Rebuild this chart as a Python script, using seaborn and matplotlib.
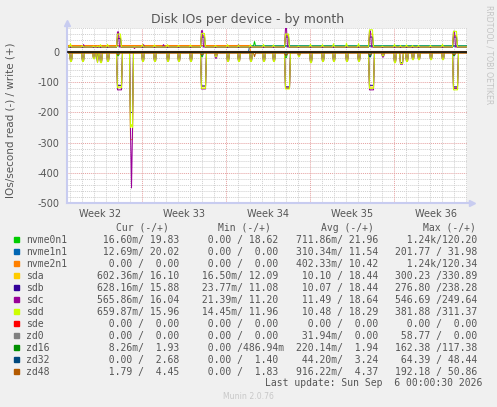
# munin "diskstats_iops" month graph, redrawn with seaborn
import numpy as np
import pandas as pd
import matplotlib.pyplot as plt
import seaborn as sns

plt.rcParams['axes.unicode_minus'] = False

W, H = 497, 407

devices = ['nvme0n1', 'nvme1n1', 'nvme2n1', 'sda', 'sdb', 'sdc', 'sdd',
           'sde', 'zd0', 'zd16', 'zd32', 'zd48']
colors = ['#00CC00', '#0066B3', '#FF8000', '#FFCC00', '#330099', '#990099',
          '#CCFF00', '#FF0000', '#808080', '#008F00', '#00487D', '#B35A00']

# legend values (read / write)
cur_read = ['16.60m', '12.69m', '0.00', '602.36m', '628.16m', '565.86m', '659.87m', '0.00', '0.00', '8.26m', '0.00', '1.79']
cur_write = ['19.83', '20.02', '0.00', '16.10', '15.88', '16.04', '15.96', '0.00', '0.00', '1.93', '2.68', '4.45']
min_read = ['0.00', '0.00', '0.00', '16.50m', '23.77m', '21.39m', '14.45m', '0.00', '0.00', '0.00', '0.00', '0.00']
min_write = ['18.62', '0.00', '0.00', '12.09', '11.08', '11.20', '11.96', '0.00', '0.00', '486.94m', '1.40', '1.83']
avg_read = ['711.86m', '310.34m', '402.33m', '10.10', '10.07', '11.49', '10.48', '0.00', '31.94m', '220.14m', '44.20m', '916.22m']
avg_write = ['21.96', '11.54', '10.42', '18.44', '18.44', '18.64', '18.29', '0.00', '0.00', '1.94', '3.24', '4.37']
max_read = ['1.24k', '201.77', '1.24k', '300.23', '276.80', '546.69', '381.88', '0.00', '58.77', '162.38', '64.39', '192.18']
max_write = ['120.20', '31.98', '120.34', '330.89', '238.28', '249.64', '311.37', '0.00', '0.00', '117.38', '48.44', '50.86']

# x axis (days since left edge)
week_labels = ['Week 32', 'Week 33', 'Week 34', 'Week 35', 'Week 36']
week_mid = [2.72, 9.72, 16.72, 23.72, 30.72]
week_start = [6.22, 13.22, 20.22, 27.22]

# daily read bursts of the disks (day, hours)
daily_day = [0.25, 1.22, 2.19, 2.47, 2.75, 3.31, 6.22, 7.28, 8.30, 9.25, 10.25,
             12.33, 13.30, 14.25, 15.25, 16.36, 17.17, 19.27, 20.25, 21.22, 22.19,
             23.25, 24.27, 26.22, 27.25, 27.75, 28.25, 28.72, 29.27, 30.25, 31.22]
daily_len = [4, 4, 4, 2, 4, 4, 4, 4, 4, 4, 4, 4, 4, 4, 4, 4, 4, 4, 4, 4, 4,
             4, 4, 4, 4, 6, 4, 4, 4, 4, 4]
sda_daily = [-28, -29, -20, -33, -32, -29, -29, -30, -29, -30, -29, -12, -30, -29, -28, -30,
             -29, -12, -33, -30, -29, -30, -29, -10, -33, -36, -30, -23, -24, -23, -24]
sdb_daily = [-27, -28, -19, -32, -31, -28, -28, -29, -28, -29, -28, -14, -29, -28, -27, -29,
             -28, -11, -32, -29, -28, -29, -28, -12, -32, -35, -29, -22, -23, -22, -23]
sdc_daily = [-30, -30, -20, -34, -34, -30, -30, -30, -30, -30, -30, -20, -30, -30, -30, -30,
             -30, -10, -33, -30, -30, -30, -30, -16, -33, -40, -30, -24, -24, -24, -24]
sdd_daily = [-31, -31, -22, -35, -35, -31, -31, -31, -31, -31, -31, -15, -31, -31, -31, -31,
             -31, -15, -35, -31, -31, -31, -31, -12, -35, -38, -31, -25, -25, -25, -25]
sdd_daily_write = [28, 22, 20, 20, 25, 26, 25, 24, 25, 22, 24, 22, 25, 24, 25, 26,
                   24, 20, 26, 25, 28, 30, 28, 20, 26, 22, 24, 22, 22, 22, 26]

# weekly scrub-like bursts
weekly_day = [4.17, 11.17, 18.17, 25.17, 32.17]
sda_weekly = [-112, -115, -118, -116, -118]
sdb_weekly = [-110, -112, -115, -110, -115]
sdc_weekly = [-125, -122, -120, -125, -120]
sdd_weekly = [-118, -120, -122, -120, -125]
sda_weekly_write = [50, 55, 55, 60, 55]
sdb_weekly_write = [45, 50, 50, 50, 50]
sdc_weekly_write = [67, 71, 79, 70, 69]
sdd_weekly_write = [60, 62, 60, 74, 69]
nvme0_weekly = [-12, -15, -18, -15, -12]
zd32_weekly = [-8, -10, -10, -15, -10]

# the single large read burst
big_day = [5.25, 5.33]
sda_big = [-290, -290]
sdb_big = [-200, -200]
sdc_big = [-260, -450]
sdd_big = [-250, -240]

# samples: one per 2 hours
t = np.arange(400) / 12 + 1 / 24


def trace(base, days, hours, values):
    y = np.full(len(t), float(base))
    for d, h, v in zip(days, hours, values):
        y[(t >= d) & (t < d + h / 24)] = v
    return y


reads = {d: trace(0, [], [], []) for d in devices}
writes = {d: trace(0, [], [], []) for d in devices}

reads['sda'] = trace(-0.6, daily_day + weekly_day + big_day, daily_len + [10] * 5 + [6, 2], sda_daily + sda_weekly + sda_big)
reads['sdb'] = trace(-0.6, daily_day + weekly_day + big_day, daily_len + [10] * 5 + [6, 2], sdb_daily + sdb_weekly + sdb_big)
reads['sdc'] = trace(-0.6, daily_day + weekly_day + big_day, daily_len + [10] * 5 + [6, 2], sdc_daily + sdc_weekly + sdc_big)
reads['sdd'] = trace(-0.6, daily_day + weekly_day + big_day, daily_len + [10] * 5 + [6, 2], sdd_daily + sdd_weekly + sdd_big)
reads['nvme0n1'] = trace(0, weekly_day, [4] * 5, nvme0_weekly)
reads['zd32'] = trace(0, weekly_day, [4] * 5, zd32_weekly)
reads['zd48'] = trace(-3.5, weekly_day + [15.55], [4] * 5 + [2], [-8, -8, -10, -8, -8, -15])

writes['sda'] = trace(17, weekly_day, [8] * 5, sda_weekly_write)
writes['sdb'] = trace(16, weekly_day, [8] * 5, sdb_weekly_write)
writes['sdc'] = trace(17, weekly_day + [1.3, 6.3, 8.0, 14.25, 5.55],
                      [4] * 5 + [2] * 5, sdc_weekly_write + [25, 25, 25, 25, 12])
writes['sdd'] = trace(17, daily_day + weekly_day, [2] * 31 + [8] * 5, sdd_daily_write + sdd_weekly_write)
writes['nvme0n1'] = trace(21, [15.55], [2], [35])
writes['nvme1n1'] = trace(0, [15.2], [440], [20])
writes['nvme2n1'] = trace(0, [0], [365], [22])
writes['zd16'] = trace(1.9, [], [], [])
writes['zd32'] = trace(2.7, [], [], [])
writes['zd48'] = trace(4.4, [], [], [])

rows = []
for d in devices:
    rows.append(pd.DataFrame({'day': t, 'value': reads[d], 'device': d, 'kind': 'read'}))
    rows.append(pd.DataFrame({'day': t, 'value': writes[d], 'device': d, 'kind': 'write'}))
df = pd.concat(rows, ignore_index=True)

fig = plt.figure(figsize=(W / 100, H / 100), dpi=100, facecolor='#F0F0F0')
ax = fig.add_axes([67 / W, 1 - 203 / H, 400 / W, 175 / H])
ax.set_facecolor('white')

# grid like rrdtool
for y in range(-500, 81, 20):
    major = y % 100 == 0
    ax.axhline(y, color='#E5A0A0' if major else '#CFCFCF', lw=0.7,
               ls=(0, (1, 1)), zorder=0.5)
for x in np.arange(0.22, 33.33, 1):
    major = any(abs(x - w) < 0.01 for w in week_start)
    ax.axvline(x, color='#E5A0A0' if major else '#CFCFCF', lw=0.7,
               ls=(0, (1, 1)), zorder=0.5)

sns.lineplot(data=df, x='day', y='value', hue='device', units='kind',
             estimator=None, hue_order=devices, palette=colors, lw=0.75,
             legend=False, ax=ax, zorder=2)
ax.axhline(0, color='#111111', lw=1.1, zorder=3)

ax.set_xlim(0, 400 / 12)
ax.set_ylim(-500, 80)
ax.set_xticks(week_mid, week_labels)
ax.set_yticks(range(-500, 1, 100), [str(v) for v in range(-500, 1, 100)])
ax.tick_params(length=0, labelsize=7, labelcolor='#555555')
ax.tick_params(axis='y', pad=5.5)
ax.tick_params(axis='x', pad=4)
ax.set_xlabel('')
ax.set_ylabel('')
for s in ax.spines.values():
    s.set_visible(False)

axis_c = '#C8CCF0'
ax.plot([0, 0], [0, 1.03], color=axis_c, lw=1.5, transform=ax.transAxes, clip_on=False)
ax.plot([0], [1.03], marker='^', ms=4, color=axis_c, transform=ax.transAxes, clip_on=False)
ax.plot([0, 1.012], [0, 0], color=axis_c, lw=1.5, transform=ax.transAxes, clip_on=False)
ax.plot([1.012], [0], marker='>', ms=4, color=axis_c, transform=ax.transAxes, clip_on=False)


def fx(x):
    return x / W


def fy(y):
    return 1 - y / H


fig.text(fx(248), fy(19), 'Disk IOs per device - by month', ha='center', va='center',
         fontsize=9, color='#555555')
fig.text(fx(11), fy(120), 'IOs/second read (-) / write (+)', rotation=90,
         ha='center', va='center', fontsize=7.5, color='#555555')
fig.text(fx(488.5), fy(5), 'RRDTOOL / TOBI OETIKER', rotation=270, ha='center',
         va='top', fontsize=5.6, color='#C4C4C4')

# legend table
mono = 'DejaVu Sans Mono'
cw = 5.85
txt = '#555555'
for label, xc in zip(['Cur (-/+)', 'Min (-/+)', 'Avg (-/+)', 'Max (-/+)'], [142.5, 244.7, 347, 449.3]):
    fig.text(fx(xc), fy(228), label, ha='center', va='center', family=mono,
             fontsize=7, color=txt)


def part(s):
    if s[-1] in 'mk':
        return f'{s[:-1]:>6}{s[-1]}'
    return f'{s:>6} '


col_end = [179, 278.3, 377.7, 476.7]
cols = [(cur_read, cur_write), (min_read, min_write), (avg_read, avg_write), (max_read, max_write)]
for i, d in enumerate(devices):
    yc = 239.7 + 12 * i
    fig.patches.append(plt.Rectangle((fx(14), fy(yc + 2.7)), 5.4 / W, 5.4 / H,
                                     transform=fig.transFigure, color=colors[i]))
    fig.text(fx(26), fy(yc), d, ha='left', va='center', family=mono, fontsize=7, color=txt)
    for (r, w), xe in zip(cols, col_end):
        fig.text(fx(xe - 14 * cw), fy(yc), part(r[i]) + '/' + part(w[i]), ha='left',
                 va='center', family=mono, fontsize=7, color=txt)

fig.text(fx(482.7), fy(383.3), 'Last update: Sun Sep  6 00:00:30 2026', ha='right',
         va='center', family=mono, fontsize=7, color=txt)
fig.text(fx(248), fy(396.3), 'Munin 2.0.76', ha='center', va='center',
         fontsize=5.6, color='#C8C8C8')

fig.savefig('out.png', dpi=100, facecolor=fig.get_facecolor())
